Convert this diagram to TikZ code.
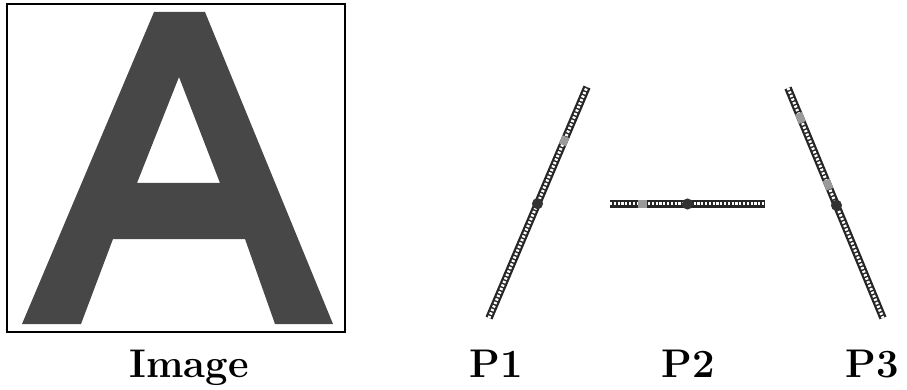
\documentclass[tikz,border=0pt]{standalone}
\usepackage{tikz}
\usetikzlibrary{positioning,calc}
\definecolor{inkgray}{HTML}{474747}
\definecolor{markgray}{HTML}{9A9A9A}

\begin{document}
\begin{tikzpicture}[x=1pt,y=-1pt,
          rod/.style={line width=7.5pt, draw=black!85,
            postaction={draw=white, line width=3pt, dash pattern=on 2.2pt off 1.6pt}},
          tick/.style={line width=7.5pt, draw=markgray},
          dot/.style={circle, fill=black!80, draw=black!80, line width=1pt, inner sep=0pt, minimum size=10pt},
          lbl/.style={font=\fontsize{40}{46}\selectfont\bfseries, anchor=base}]
        \useasboundingbox (0,0) rectangle (907,390);
        % image panel
        \draw[line width=1.4pt] (7,4) rectangle (345,332);
        \fill[inkgray, even odd rule]
          (22,324) -- (154,12) -- (205,12) -- (333,324) -- (275,324) -- (245,239)
          -- (113,239) -- (81,324) -- cycle
          (137,183) -- (179,77) -- (220,183) -- cycle;
        % the three parts
        \coordinate (p1a) at (489,318);
        \coordinate (p1b) at (587,87);
        \coordinate (p2a) at (610,204);
        \coordinate (p2b) at (765,204);
        \coordinate (p3a) at (788,88);
        \coordinate (p3b) at (883,318);
        \draw[rod] (p1a) -- (p1b);
        \draw[rod] (p2a) -- (p2b);
        \draw[rod] (p3a) -- (p3b);
        \draw[tick] ($(p1a)!0.75!(p1b)$) -- ($(p1a)!0.785!(p1b)$);
        \draw[tick] ($(p2a)!0.18!(p2b)$) -- ($(p2a)!0.24!(p2b)$);
        \draw[tick] ($(p3a)!0.11!(p3b)$) -- ($(p3a)!0.15!(p3b)$);
        \draw[tick] ($(p3a)!0.40!(p3b)$) -- ($(p3a)!0.44!(p3b)$);
        \node[dot] (d1) at ($(p1a)!0.495!(p1b)$) {};
        \node[dot] (d2) at ($(p2a)!0.5!(p2b)$) {};
        \node[dot] (d3) at ($(p3a)!0.51!(p3b)$) {};
        % captions
        \node[lbl] (image) at (189,377) {Image};
        \node[lbl] (c1) at (496,377) {P1};
        \node[lbl] (c2) at (688,377) {P2};
        \node[lbl] (c3) at (872,377) {P3};
      \end{tikzpicture}
\end{document}
